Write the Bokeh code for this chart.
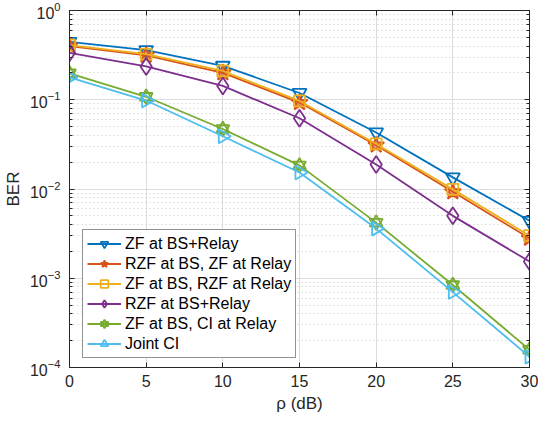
import numpy as np
from bokeh.plotting import figure
from bokeh.models import (LinearAxis, LogAxis, Legend, LegendItem, FixedTicker, LogTicker,
                          CustomJSTickFormatter, ColumnDataSource)
from bokeh.embed import file_html
from bokeh.resources import INLINE

snr = [0, 5, 10, 15, 20, 25, 30]
ber_zf_zf = [0.445, 0.36, 0.24, 0.119, 0.043, 0.0135, 0.0044]
ber_rzf_zf = [0.40, 0.315, 0.20, 0.093, 0.031, 0.0093, 0.0028]
ber_zf_rzf = [0.41, 0.325, 0.21, 0.097, 0.032, 0.0099, 0.0030]
ber_rzf_rzf = [0.336, 0.236, 0.143, 0.062, 0.0188, 0.0050, 0.00154]
ber_zf_ci = [0.198, 0.108, 0.047, 0.0184, 0.0042, 0.00084, 0.000158]
ber_joint_ci = [0.178, 0.098, 0.039, 0.0153, 0.0036, 0.0007, 0.000132]
labels = ["ZF at BS+Relay", "RZF at BS, ZF at Relay", "ZF at BS, RZF at Relay",
          "RZF at BS+Relay", "ZF at BS, CI at Relay", "Joint CI"]
colors = ["#0072BD", "#D95319", "#EDB120", "#7E2F8E", "#77AC30", "#4DBEEE"]
x_ticks = [0, 5, 10, 15, 20, 25, 30]

FONT = "Liberation Sans"
AX = "#262626"

p = figure(width=538, height=416, min_border_left=65, min_border_right=9,
           min_border_top=10, min_border_bottom=49,
           x_range=(0, 30), y_range=(1e-4, 1), y_axis_type="log",
           output_backend="svg", toolbar_location=None,
           background_fill_color="white", border_fill_color="white")

p.outline_line_color = AX
p.outline_line_width = 1

for ax in [p.xaxis[0], p.yaxis[0]]:
    ax.major_label_text_font = FONT
    ax.major_label_text_font_size = "16px"
    ax.major_label_text_color = AX
    ax.axis_line_color = AX
    ax.major_tick_line_color = AX
    ax.minor_tick_line_color = AX
    ax.major_tick_in = 5
    ax.major_tick_out = 0
    ax.minor_tick_in = 3
    ax.minor_tick_out = 0
    ax.axis_label_text_font = FONT
    ax.axis_label_text_font_style = "normal"
    ax.axis_label_text_font_size = "17px"
    ax.axis_label_text_color = AX

p.xaxis[0].ticker = FixedTicker(ticks=x_ticks)
p.xaxis[0].axis_label = "ρ (dB)"
p.xaxis[0].axis_label_standoff = 4
p.xaxis[0].major_label_standoff = 7
p.yaxis[0].axis_label = "BER"
p.yaxis[0].major_label_standoff = 9
p.yaxis[0].axis_label_standoff = 4

blank = CustomJSTickFormatter(code="return ''")
top = LinearAxis(ticker=FixedTicker(ticks=x_ticks), formatter=blank,
                 major_label_standoff=0, major_tick_in=5, major_tick_out=0,
                 axis_line_color=AX, major_tick_line_color=AX)
right = LogAxis(ticker=LogTicker(num_minor_ticks=10), formatter=blank,
                major_label_standoff=0, major_tick_in=5, major_tick_out=0,
                minor_tick_in=3, minor_tick_out=0,
                axis_line_color=AX, major_tick_line_color=AX, minor_tick_line_color=AX)
p.add_layout(top, "above")
p.add_layout(right, "right")

p.xgrid.grid_line_color = "#dcdcdc"
p.xgrid.grid_line_width = 1
p.ygrid.grid_line_color = "#dcdcdc"
p.ygrid.minor_grid_line_color = "#c8c8c8"
p.ygrid.minor_grid_line_dash = "1 3"

LW = 1.8
items = []
series = [ber_zf_zf, ber_rzf_zf, ber_zf_rzf, ber_rzf_rzf, ber_zf_ci, ber_joint_ci]
for i, (ys, c, lab) in enumerate(zip(series, colors, labels)):
    src = ColumnDataSource(dict(x=snr, y=ys, ang=[-np.pi / 2] * len(snr)))
    rs = [p.line("x", "y", source=src, line_color=c, line_width=LW)]
    if i == 0:
        rs.append(p.scatter("x", "y", source=src, marker="inverted_triangle", size=14,
                            line_color=c, fill_color=None, line_width=LW))
    elif i == 1:
        rs.append(p.scatter("x", "y", source=src, marker="star", size=17, line_color=c,
                            fill_color=c, fill_alpha=0.6, line_width=LW))
    elif i == 2:
        rs.append(p.scatter("x", "y", source=src, marker="square", size=11, line_color=c,
                            fill_color=None, line_width=LW))
    elif i == 3:
        rs.append(p.scatter("x", "y", source=src, marker="diamond", size=17, line_color=c,
                            fill_color=None, line_width=LW))
    elif i == 4:
        rs.append(p.scatter("x", "y", source=src, marker="triangle", size=13, line_color=c,
                            fill_color=None, line_width=LW))
        rs.append(p.scatter("x", "y", source=src, marker="inverted_triangle", size=13,
                            line_color=c, fill_color=None, line_width=LW))
    else:
        rs.append(p.scatter("x", "y", source=src, marker="triangle", size=14, angle="ang",
                            line_color=c, fill_color=None, line_width=LW))
    items.append(LegendItem(label=lab, renderers=rs, index=0))

legend = Legend(items=items, location=(13, 9), label_text_font=FONT,
                label_text_font_size="16px", label_text_color="black",
                glyph_width=34, glyph_height=19, label_height=19, spacing=1,
                padding=4, label_standoff=4, border_line_color=AX,
                border_line_width=1, background_fill_alpha=1, margin=0)
p.add_layout(legend, "center")

open("out.html", "w").write(file_html(p, INLINE))
